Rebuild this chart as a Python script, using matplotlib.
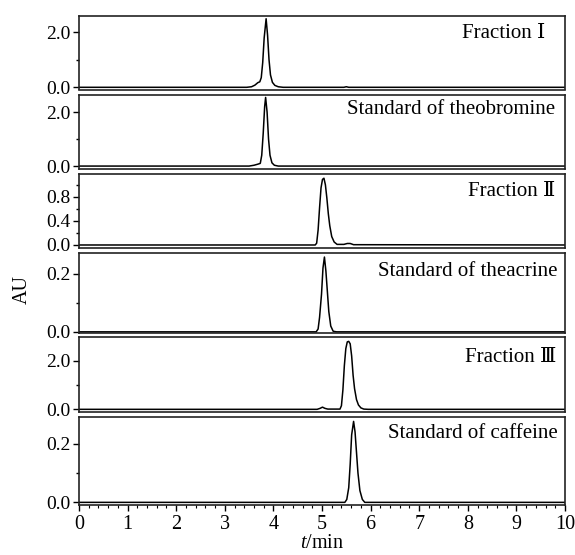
import matplotlib
matplotlib.use("Agg")
import matplotlib.pyplot as plt
from matplotlib.ticker import MultipleLocator

# ---- data ----
labels = ["Fraction \u2160", "Standard of theobromine", "Fraction \u2161",
          "Standard of theacrine", "Fraction \u2162", "Standard of caffeine"]

t1 = [0.0, 3.45, 3.55, 3.62, 3.68, 3.72, 3.75, 3.78, 3.81, 3.85, 3.88, 3.91, 3.94, 3.98, 4.03, 4.10, 4.20, 5.45, 5.50, 5.55, 10.0]
y1 = [0.0, 0.0, 0.02, 0.08, 0.17, 0.20, 0.35, 0.90, 1.80, 2.50, 1.90, 1.00, 0.45, 0.18, 0.07, 0.02, 0.0, 0.0, 0.02, 0.0, 0.0]

t2 = [0.0, 3.50, 3.60, 3.68, 3.73, 3.76, 3.79, 3.82, 3.84, 3.87, 3.90, 3.93, 3.97, 4.02, 4.10, 10.0]
y2 = [0.0, 0.0, 0.03, 0.07, 0.10, 0.40, 1.20, 2.20, 2.54, 2.00, 1.00, 0.40, 0.12, 0.03, 0.0, 0.0]

t3 = [0.0, 4.86, 4.89, 4.92, 4.95, 4.98, 5.01, 5.04, 5.07, 5.10, 5.13, 5.16, 5.20, 5.25, 5.31, 5.45, 5.52, 5.58, 5.65, 10.0]
y3 = [0.0, 0.0, 0.03, 0.25, 0.62, 0.95, 1.09, 1.11, 1.00, 0.78, 0.52, 0.32, 0.14, 0.05, 0.01, 0.01, 0.025, 0.025, 0.005, 0.0]

t4 = [0.0, 4.88, 4.92, 4.95, 4.99, 5.02, 5.05, 5.08, 5.11, 5.14, 5.18, 5.23, 5.30, 10.0]
y4 = [0.0, 0.0, 0.01, 0.05, 0.13, 0.22, 0.258, 0.21, 0.14, 0.07, 0.02, 0.002, 0.0, 0.0]

t5 = [0.0, 4.90, 4.96, 5.01, 5.06, 5.12, 5.37, 5.40, 5.43, 5.46, 5.49, 5.52, 5.55, 5.58, 5.61, 5.64, 5.67, 5.71, 5.75, 5.80, 5.86, 5.95, 10.0]
y5 = [0.0, 0.0, 0.04, 0.09, 0.04, 0.01, 0.01, 0.15, 0.80, 1.80, 2.50, 2.78, 2.80, 2.70, 2.20, 1.40, 0.85, 0.40, 0.18, 0.06, 0.01, 0.0, 0.0]

t6 = [0.0, 5.47, 5.51, 5.55, 5.58, 5.61, 5.65, 5.68, 5.71, 5.74, 5.78, 5.83, 5.88, 10.0]
y6 = [0.0, 0.0, 0.01, 0.05, 0.13, 0.23, 0.276, 0.24, 0.17, 0.10, 0.04, 0.01, 0.0, 0.0]

series_t = [t1, t2, t3, t4, t5, t6]
series_y = [y1, y2, y3, y4, y5, y6]

ylims = [(-0.08, 2.60), (-0.09, 2.63), (-0.05, 1.18), (-0.004, 0.272), (-0.11, 2.98), (-0.009, 0.291)]
major_ticks = [[0.0, 2.0], [0.0, 2.0], [0.0, 0.4, 0.8], [0.0, 0.2], [0.0, 2.0], [0.0, 0.2]]
minor_steps = [1.0, 1.0, 0.2, 0.1, 1.0, 0.1]
xticks = list(range(0, 11))

# ---- layout (pixel boxes: top, bottom) ----
W, H = 575, 555
boxes = [(16, 89.5), (95, 168.5), (174, 248), (253, 333), (337, 412), (417, 505)]
left_px, right_px = 79, 565
label_dy = [-17, -15, -18, -19, -20, -16]
label_dx = [-20, -10, -10, -7, -9, -7]

plt.rcParams["font.family"] = ["Liberation Serif", "DejaVu Serif"]
plt.rcParams["mathtext.fontset"] = "custom"
plt.rcParams["mathtext.rm"] = "Liberation Serif"
plt.rcParams["mathtext.it"] = "Liberation Serif:italic"

fig = plt.figure(figsize=(W / 100, H / 100), dpi=100)
axes = []
for i, (top, bot) in enumerate(boxes):
    ax = fig.add_axes([left_px / W, 1 - bot / H, (right_px - left_px) / W, (bot - top) / H])
    ax.plot(series_t[i], series_y[i], color="black", lw=1.1)
    ax.set_xlim(0, 10)
    ax.set_ylim(*ylims[i])
    ax.set_yticks(major_ticks[i])
    ax.set_yticklabels([f"{v:.1f}" for v in major_ticks[i]], fontsize=14)
    ax.yaxis.set_minor_locator(MultipleLocator(minor_steps[i]))
    ax.tick_params(axis="y", which="major", direction="out", length=4, width=1, pad=2)
    ax.tick_params(axis="y", which="minor", direction="out", length=2.5, width=1)
    for s in ax.spines.values():
        s.set_linewidth(1.2)
        s.set_color("#222222")
    if i < 5:
        ax.tick_params(axis="x", which="both", bottom=False, labelbottom=False)
    else:
        ax.set_xticks(xticks)
        ax.set_xticklabels([str(v) for v in xticks], fontsize=14.5)
        ax.xaxis.set_minor_locator(MultipleLocator(0.2))
        ax.tick_params(axis="x", which="major", direction="out", length=4, width=1, pad=3)
        ax.tick_params(axis="x", which="minor", direction="out", length=2.5, width=0.8)
        ax.set_xlabel("$\\it{t}$/min", fontsize=14.5, labelpad=0)
    ax.annotate(labels[i], xy=(1, 1), xycoords="axes fraction",
                xytext=(label_dx[i], label_dy[i]), textcoords="offset pixels",
                ha="right", va="center", fontsize=15)
    axes.append(ax)

fig.text(22 / W, 1 - 290 / H, "AU", rotation=90, ha="center", va="center", fontsize=14.5)

fig.savefig("out.png", dpi=100)
